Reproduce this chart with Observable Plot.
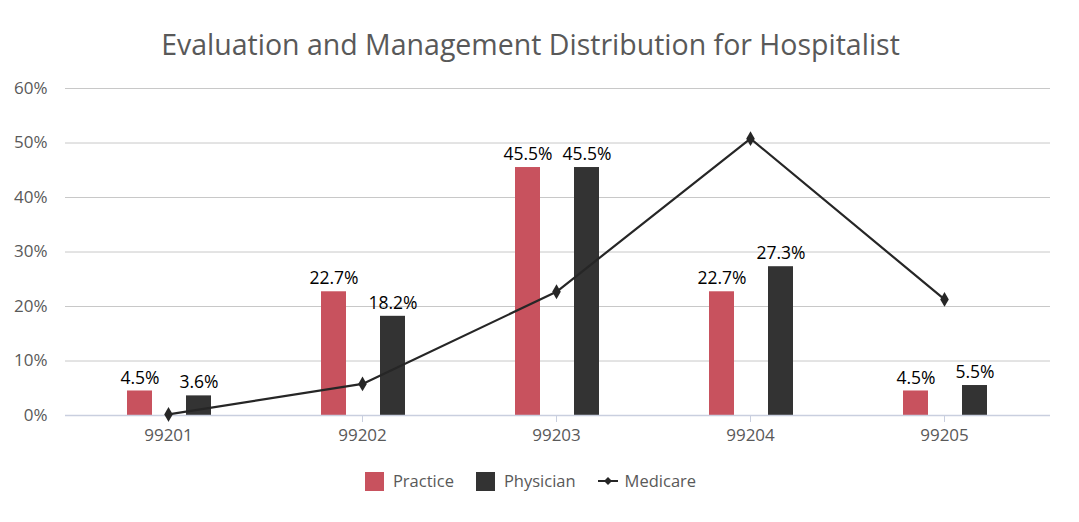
<!DOCTYPE html>
<html><head><meta charset="utf-8">
<script src="https://cdn.jsdelivr.net/npm/d3@7"></script>
<script src="https://cdn.jsdelivr.net/npm/@observablehq/plot@0.6"></script>
<style>
body{margin:0;background:#fff;font-family:"Open Sans",sans-serif;width:1079px;height:522px;position:relative;overflow:hidden;}
#title{position:absolute;top:27px;left:0;width:1061px;text-align:center;font-size:28.5px;line-height:34px;color:#595959;}
#chart{position:absolute;top:70px;left:0;}
#legend{position:absolute;top:470px;left:0;width:1061px;display:flex;justify-content:center;align-items:center;font-size:16.5px;color:#595959;line-height:22px;}
.item{display:flex;align-items:center;margin:0 11px;}
.sw{width:19px;height:19px;margin-right:9px;}
#chart svg text{font-family:"Open Sans",sans-serif;}
#chart svg g[aria-label="x-axis tick label"], #chart svg g[aria-label="y-axis tick label"]{font-size:17px !important;}
</style></head><body>
<div id="title">Evaluation and Management Distribution for Hospitalist</div>
<div id="chart"></div>
<div id="legend">
  <div class="item"><div class="sw" style="background:#c8525e"></div>Practice</div>
  <div class="item"><div class="sw" style="background:#333333"></div>Physician</div>
  <div class="item"><svg width="20" height="12" style="margin-right:7px"><line x1="0" y1="6" x2="20" y2="6" stroke="#262626" stroke-width="2"/><path d="M10 2 L14 6 L10 10 L6 6 Z" fill="#262626"/></svg>Medicare</div>
</div>
<script>
const categories = ["99201","99202","99203","99204","99205"];
const practice = [4.5, 22.7, 45.5, 22.7, 4.5];
const physician = [3.6, 18.2, 45.5, 27.3, 5.5];
const medicare = [0.2, 5.8, 22.7, 50.8, 21.3];
const yTicks = [0,10,20,30,40,50,60];

const pr = categories.map((c,i)=>({cat:c, v:practice[i]}));
const ph = categories.map((c,i)=>({cat:c, v:physician[i]}));
const md = categories.map((c,i)=>({cat:c, v:medicare[i]}));
const fmt = d => d.v.toFixed(1) + "%";

const chart = Plot.plot({
  width: 1079,
  height: 385,
  marginLeft: 65,
  marginRight: 29,
  marginTop: 18,
  marginBottom: 40,
  style: {fontSize: "17px", color: "#595959", background: "transparent"},
  x: {type: "band", domain: categories, padding: 0, insetLeft: 6, insetRight: 9, label: null},
  y: {domain: [0, 60], label: null},
  marks: [
    Plot.ruleY(yTicks.filter(d => d > 0), {stroke: "#c8c8c8", strokeWidth: 1}),
    Plot.axisY(yTicks, {tickSize: 0, tickPadding: 18, tickFormat: d => d + "%", fill: "#595959", fontSize: 17, label: null}),
    Plot.barY(pr, {x: "cat", y: "v", fill: "#c8525e", insetLeft: 56, insetRight: 113}),
    Plot.barY(ph, {x: "cat", y: "v", fill: "#333333", insetLeft: 115, insetRight: 54}),
    Plot.ruleY([0], {stroke: "#c9cfdf", strokeWidth: 1.5}),
    Plot.axisX({tickSize: 7, stroke: "#c9cfdf", tickPadding: 6, fill: "#595959", fontSize: 17, label: null}),
    Plot.text(pr, {x: "cat", y: "v", text: fmt, dx: -28.5, dy: -13, fill: "#000", fontSize: 17.5}),
    Plot.text(ph, {x: "cat", y: "v", text: fmt, dx: 30.5, dy: -13, fill: "#000", fontSize: 17.5}),
    Plot.line(md, {x: "cat", y: "v", stroke: "#262626", strokeWidth: 2.2}),
    Plot.dot(md, {x: "cat", y: "v", symbol: "diamond", r: 4.5, fill: "#262626"})
  ]
});
document.getElementById("chart").appendChild(chart);
</script>
</body></html>
